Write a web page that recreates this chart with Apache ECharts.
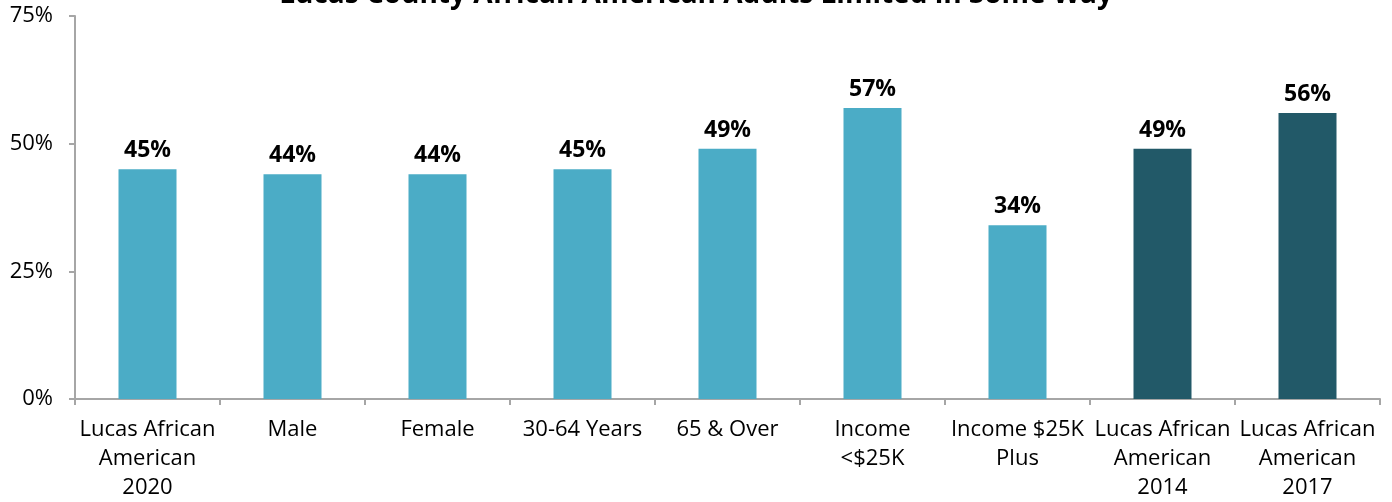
<!DOCTYPE html>
<html><head><meta charset="utf-8">
<script src="https://cdn.jsdelivr.net/npm/echarts@6/dist/echarts.min.js"></script>
<style>html,body{margin:0;padding:0;background:#fff}#c{width:1392px;height:502px}</style>
</head><body><div id="c"></div>
<script>
const titleText = 'Lucas County African American Adults Limited in Some Way';
const categories = ['Lucas African\nAmerican\n2020','Male','Female','30-64 Years','65 & Over','Income\n<$25K','Income $25K\nPlus','Lucas African\nAmerican\n2014','Lucas African\nAmerican\n2017'];
const values = [45,44,44,45,49,57,34,49,56];
const highlight = [false,false,false,false,false,false,false,true,true];
const yTicks = [0,25,50,75];

const FONT = '"Open Sans"';
const chart = echarts.init(document.getElementById('c'));
chart.setOption({
  animation:false,
  title:{text:titleText,left:'center',top:-24,textStyle:{fontFamily:FONT,fontSize:28,fontWeight:'bold',color:'#000'}},
  grid:{left:75,right:12,top:16,bottom:102,containLabel:false},
  xAxis:{type:'category',data:categories,
    axisLine:{lineStyle:{color:'#a6a6a6',width:2}},
    axisTick:{show:true,length:6,lineStyle:{color:'#a6a6a6',width:2}},
    axisLabel:{fontFamily:FONT,fontSize:22,color:'#000',lineHeight:29,margin:16,interval:0}},
  yAxis:{type:'value',min:0,max:75,interval:25,
    axisLine:{show:true,lineStyle:{color:'#a6a6a6',width:2}},
    axisTick:{show:true,length:6,lineStyle:{color:'#a6a6a6',width:2}},
    splitLine:{show:false},
    axisLabel:{fontFamily:FONT,fontSize:22,color:'#000',margin:22,formatter:v=>v+'%'}},
  series:[{type:'bar',barWidth:58,
    data:values.map((v,i)=>({value:v,itemStyle:{color:highlight[i]?'#225968':'#4bacc6'}})),
    label:{show:true,position:'top',distance:7,fontFamily:FONT,fontSize:23,fontWeight:'bold',color:'#000',formatter:p=>p.value+'%'}}]
});
</script></body></html>
